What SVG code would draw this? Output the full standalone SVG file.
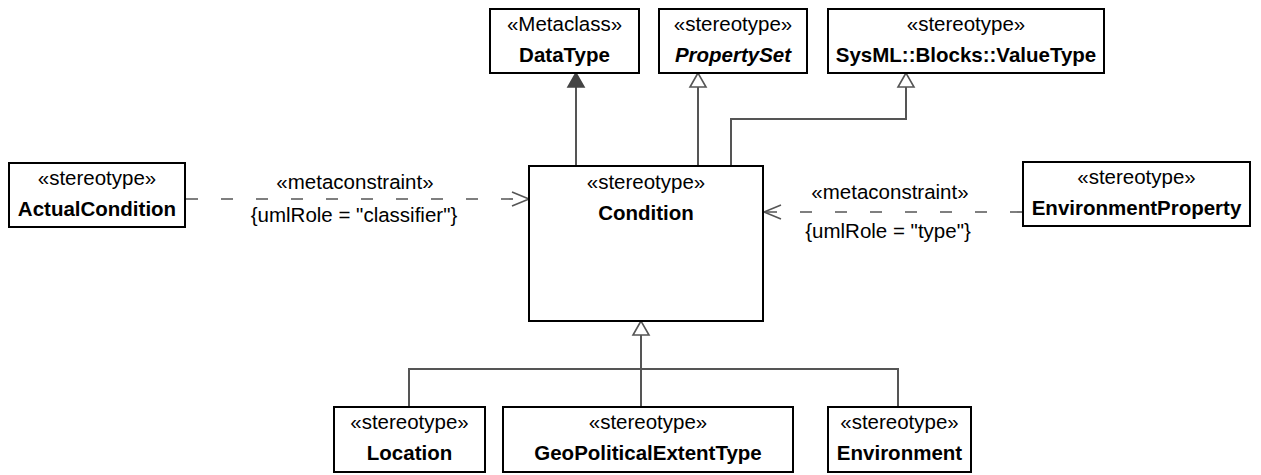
<svg xmlns="http://www.w3.org/2000/svg" width="1261" height="475" viewBox="0 0 1261 475">
<style>
.box{fill:#fff;stroke:#000;stroke-width:2}
.t{font-family:"Liberation Sans",Arial,sans-serif;font-size:20.5px;fill:#000;text-anchor:middle}
.b{font-weight:bold}
.i{font-style:italic}
.c{fill:none;stroke:#555;stroke-width:2}
.d{fill:none;stroke:#555;stroke-width:1.6;stroke-dasharray:12 23}
.hollow{fill:#fff;stroke:#555;stroke-width:1.6}
.filled{fill:#444;stroke:#444;stroke-width:1.6}
.open{fill:none;stroke:#555;stroke-width:1.6}
</style>
<rect width="1261" height="475" fill="#fff"/>
<g id="connectors">
  <line class="c" x1="576" y1="166" x2="576" y2="87"/>
  <polygon class="filled" points="576,73 568,87 584,87"/>
  <line class="c" x1="698" y1="166" x2="698" y2="87"/>
  <polygon class="hollow" points="698,73 690,87 706,87"/>
  <polyline class="c" points="731,166 731,119 906,119 906,87"/>
  <polygon class="hollow" points="906,73 898,87 914,87"/>
  <line class="d" x1="186" y1="199" x2="528" y2="199"/>
  <polyline class="open" points="512,192 529,199 512,206"/>
  <line class="d" x1="1022" y1="212" x2="765" y2="212"/>
  <polyline class="open" points="781,205 764,212 781,219"/>
  <polygon class="hollow" points="641,321 633,335 649,335"/>
  <line class="c" x1="641" y1="335" x2="641" y2="407"/>
  <polyline class="c" points="409,407 409,369 898,369 898,407"/>
</g>
<g id="DataType">
  <rect class="box" x="490" y="9" width="149" height="64"/>
  <text class="t" x="564.5" y="31">«Metaclass»</text>
  <text class="t b" x="564.5" y="62">DataType</text>
</g>
<g id="PropertySet">
  <rect class="box" x="659" y="9" width="148" height="64"/>
  <text class="t" x="733" y="31">«stereotype»</text>
  <text class="t b i" x="733" y="62">PropertySet</text>
</g>
<g id="ValueType">
  <rect class="box" x="828" y="9" width="276" height="64"/>
  <text class="t" x="966" y="31">«stereotype»</text>
  <text class="t b" x="966" y="62">SysML::Blocks::ValueType</text>
</g>
<g id="ActualCondition">
  <rect class="box" x="9" y="163" width="176" height="64"/>
  <text class="t" x="97" y="185">«stereotype»</text>
  <text class="t b" x="97" y="216">ActualCondition</text>
</g>
<g id="Condition">
  <rect class="box" x="529" y="166" width="234" height="155"/>
  <text class="t" x="646" y="189">«stereotype»</text>
  <text class="t b" x="646" y="220">Condition</text>
</g>
<g id="EnvironmentProperty">
  <rect class="box" x="1023" y="162" width="227" height="64"/>
  <text class="t" x="1136.5" y="184">«stereotype»</text>
  <text class="t b" x="1136.5" y="215">EnvironmentProperty</text>
</g>
<g id="Location">
  <rect class="box" x="334" y="407" width="151" height="65"/>
  <text class="t" x="409.5" y="429">«stereotype»</text>
  <text class="t b" x="409.5" y="460">Location</text>
</g>
<g id="GeoPoliticalExtentType">
  <rect class="box" x="503" y="407" width="290" height="65"/>
  <text class="t" x="648" y="429">«stereotype»</text>
  <text class="t b" x="648" y="460">GeoPoliticalExtentType</text>
</g>
<g id="Environment">
  <rect class="box" x="828" y="407" width="143" height="65"/>
  <text class="t" x="899.5" y="429">«stereotype»</text>
  <text class="t b" x="899.5" y="460">Environment</text>
</g>
<g id="labels">
  <text class="t" x="355" y="189">«metaconstraint»</text>
  <text class="t" x="354" y="222">{umlRole = "classifier"}</text>
  <text class="t" x="890" y="199">«metaconstraint»</text>
  <text class="t" x="888" y="238">{umlRole = "type"}</text>
</g>
</svg>
